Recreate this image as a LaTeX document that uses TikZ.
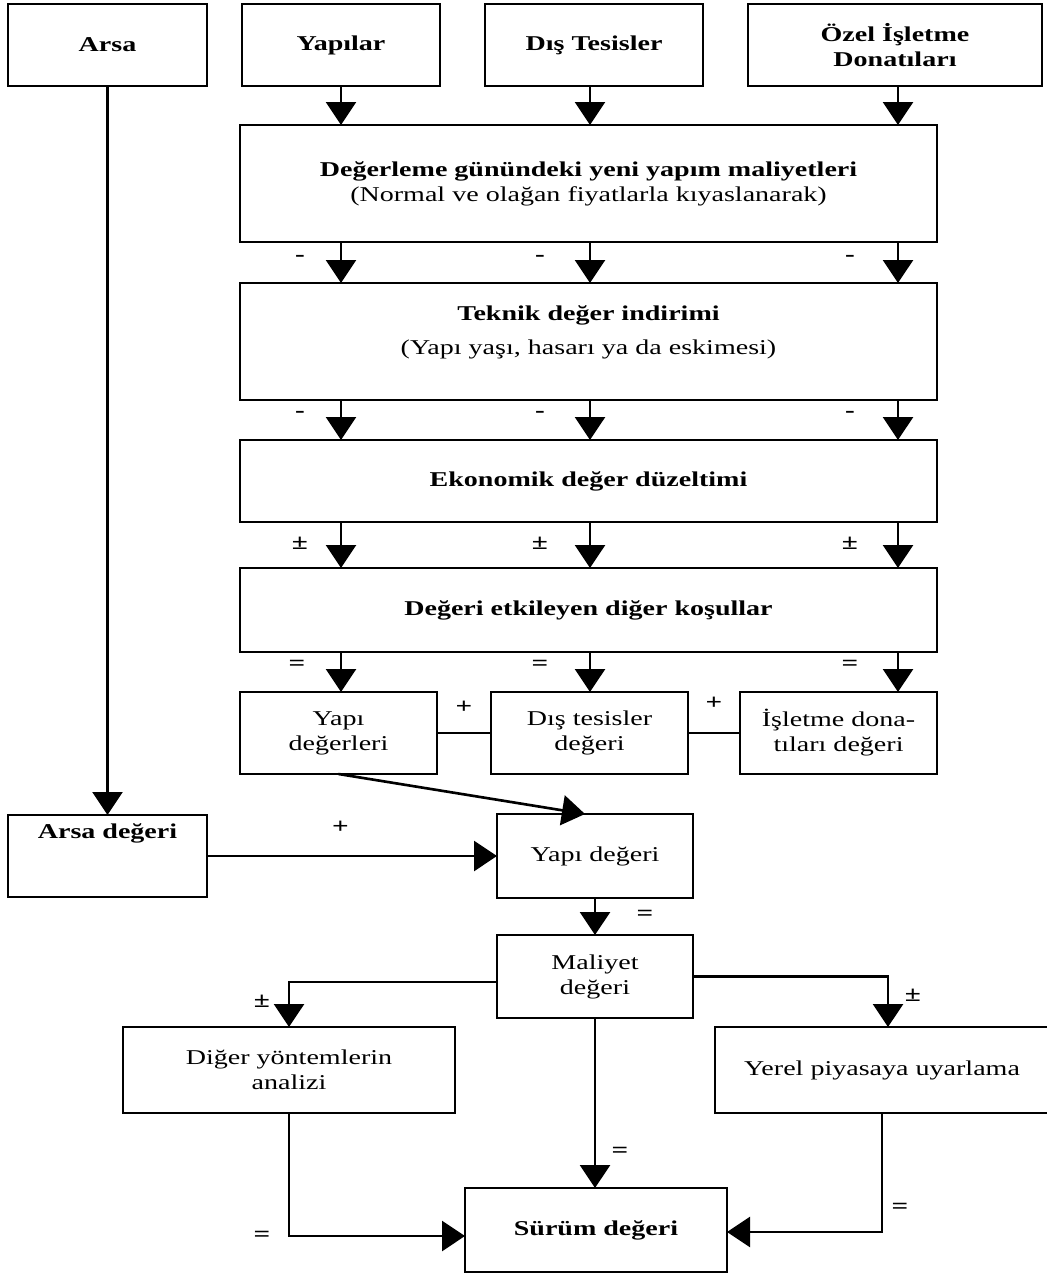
\documentclass[tikz,border=0pt]{standalone}
\usepackage{fontspec}
\setmainfont{Liberation Serif}[FakeStretch=1.33]
\usetikzlibrary{arrows.meta}
\tikzstyle{chart} = [x = 0.02cm, y = -0.02cm, every node/.style={font=\fontsize{12}{14.2}\selectfont}]
\tikzstyle{boxStyle} = [draw, line width=1.5pt, inner sep=0pt, outer sep=0pt, align=center]
\tikzstyle{boldBox} = [boxStyle, font=\fontsize{12}{14.2}\selectfont\bfseries]
\tikzstyle{flowLine} = [line width=1.5pt]
\tikzstyle{flowArrow} = [flowLine, -{Triangle[width=0.6cm, length=0.46cm]}]
\tikzstyle{signText} = [font=\fontsize{12.5}{14}\selectfont\bfseries, inner sep=0pt]
\newcommand{\flowBox}[7]{\node[#6, minimum width=#4*0.02cm, minimum height=#5*0.02cm] (#1) at (#2,#3) {#7};}
\newcommand{\columnArrows}[4]{
  \foreach \column/\shift in {colA/-41, colB/-50, colC/-48} {
    \draw[flowArrow] (#1.south -| \column) -- (#2.north -| \column) node[signText, pos=#4, xshift=\shift*0.02cm] {#3};
  }
}

\begin{document}
\begin{tikzpicture}[chart]
  \useasboundingbox (0,0) rectangle (1047,1274);
  \coordinate (colA) at (341,0);
  \coordinate (colB) at (590,0);
  \coordinate (colC) at (898,0);

  % sources
  \flowBox{arsa}{107.5}{45}{199}{82}{boldBox}{Arsa}
  \flowBox{yapilar}{341}{45}{198}{82}{boldBox}{Yapılar}
  \flowBox{disTesis}{594}{45}{218}{82}{boldBox}{Dış Tesisler}
  \flowBox{ozel}{895}{45}{294}{82}{boldBox}{Özel İşletme\\Donatıları}

  % wide steps
  \flowBox{yeniMaliyet}{588.5}{183.5}{697}{117}{boxStyle}{\textbf{Değerleme günündeki yeni yapım maliyetleri}\\(Normal ve olağan fiyatlarla kıyaslanarak)}
  \flowBox{teknik}{588.5}{341.5}{697}{117}{boxStyle}{\textbf{Teknik değer indirimi}\\[0.18cm](Yapı yaşı, hasarı ya da eskimesi)\\[-0.06cm]\mbox{}}
  \flowBox{ekonomik}{588.5}{481}{697}{82}{boldBox}{Ekonomik değer düzeltimi}
  \flowBox{etkileyen}{588.5}{610}{697}{84}{boldBox}{Değeri etkileyen diğer koşullar}

  % partial values
  \flowBox{yapiDegerleri}{338.5}{733}{197}{82}{boxStyle}{Yapı\\değerleri}
  \flowBox{disDeger}{589.5}{733}{197}{82}{boxStyle}{Dış tesisler\\değeri}
  \flowBox{isletmeDeger}{838.5}{733}{197}{82}{boxStyle}{İşletme dona-\\tıları değeri}

  \flowBox{arsaDeger}{107.5}{856}{199}{82}{boldBox}{Arsa değeri\\[0.5cm]\mbox{}}
  \flowBox{yapiDeger}{595}{856}{196}{84}{boxStyle}{Yapı değeri}
  \flowBox{maliyet}{595}{976.5}{196}{83}{boxStyle}{Maliyet\\değeri}
  \flowBox{digerYontem}{289}{1070}{332}{86}{boxStyle}{Diğer yöntemlerin\\analizi}
  \flowBox{yerel}{882}{1070}{334}{86}{boxStyle}{Yerel piyasaya uyarlama}
  \flowBox{surum}{596}{1230}{262}{84}{boldBox}{Sürüm değeri}

  % arrows
  \draw[flowArrow] (arsa.south) -- (arsaDeger.north);
  \foreach \source/\column in {yapilar/colA, disTesis/colB, ozel/colC}
    \draw[flowArrow] (\source.south -| \column) -- (yeniMaliyet.north -| \column);
  \columnArrows{yeniMaliyet}{teknik}{-}{0.39}
  \columnArrows{teknik}{ekonomik}{-}{0.37}
  \columnArrows{ekonomik}{etkileyen}{±}{0.46}
  \foreach \target/\column/\shift in {yapiDegerleri/colA/-44, disDeger/colB/-50, isletmeDeger/colC/-48}
    \draw[flowArrow] (etkileyen.south -| \column) -- (\target.north -| \column) node[signText, pos=0.33, xshift=\shift*0.02cm] {=};

  \draw[flowLine] (yapiDegerleri.east) -- node[signText, yshift=0.52cm] {+} (disDeger.west);
  \draw[flowLine] (disDeger.east) -- node[signText, yshift=0.6cm] {+} (isletmeDeger.west);

  \draw[flowArrow] (yapiDegerleri.south) -- ([xshift=-0.2cm]yapiDeger.north);
  \draw[flowArrow] (arsaDeger.east) -- node[signText, pos=0.46, yshift=0.58cm] {+} (yapiDeger.west);
  \draw[flowArrow] (yapiDeger.south) -- node[signText, pos=0.47, xshift=1.0cm] {=} (maliyet.north);

  \draw[flowArrow] ([yshift=-0.11cm]maliyet.west) -| node[signText, pos=0.71, xshift=-0.54cm] {±} (digerYontem.north);
  \draw[flowArrow] (maliyet.east) -| node[signText, pos=0.69, xshift=0.5cm] {±} ([xshift=0.12cm]yerel.north);
  \draw[flowArrow] (maliyet.south) -- node[signText, pos=0.79, xshift=0.5cm] {=} (maliyet.south |- surum.north);
  \draw[flowArrow] (digerYontem.south) |- node[signText, pos=0.5, xshift=-0.54cm] {=} ([yshift=-0.12cm]surum.west);
  \draw[flowArrow] (yerel.south) |- node[signText, pos=0.4, xshift=0.36cm] {=} ([yshift=-0.04cm]surum.east);
\end{tikzpicture}
\end{document}
